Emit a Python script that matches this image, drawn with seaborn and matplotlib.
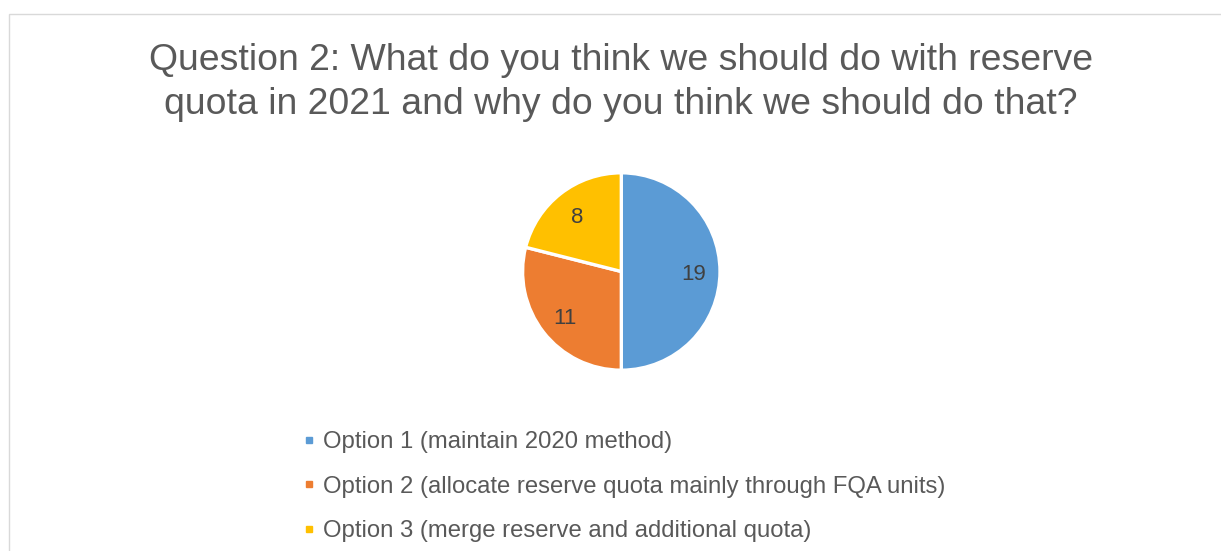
import matplotlib
matplotlib.use("Agg")
import matplotlib.pyplot as plt
from matplotlib.patches import Rectangle
from matplotlib.lines import Line2D
import seaborn as sns

# Survey responses for question 2
options = [
    "Option 1 (maintain 2020 method)",
    "Option 2 (allocate reserve quota mainly through FQA units)",
    "Option 3 (merge reserve and additional quota)",
]
responses = [19, 11, 8]
title_lines = [
    "Question 2: What do you think we should do with reserve",
    "quota in 2021 and why do you think we should do that?",
]

sns.set_theme(style="white")
plt.rcParams["font.family"] = ["Liberation Sans", "DejaVu Sans"]

W, H, DPI = 1221, 551, 100
fig = plt.figure(figsize=(W / DPI, H / DPI), dpi=DPI)
fig.patch.set_facecolor("white")

palette = sns.color_palette(["#5B9BD5", "#ED7D31", "#FFC000"])
text_gray = "#595959"

# chart-area outline
fig.patches.append(Rectangle((9 / W, -0.1), 1.2, (H - 13.5) / H + 0.1,
                             transform=fig.transFigure, fill=False,
                             edgecolor="#D9D9D9", linewidth=1.0, zorder=0))

# title, one line at a time
fig.text(621 / W, 1 - 69.5 / H, title_lines[0], ha="center", va="baseline",
         fontsize=26.9, color=text_gray)
fig.text(621 / W, 1 - 113.5 / H, title_lines[1], ha="center", va="baseline",
         fontsize=26.9, color=text_gray)

# pie
cx, cy, r = 621.3, 271.5, 98.7
ax = fig.add_axes([(cx - r) / W, (H - cy - r) / H, 2 * r / W, 2 * r / H])
total = sum(responses)
wedges, _, autotexts = ax.pie(
    responses, colors=palette, startangle=90, counterclock=False,
    autopct=lambda p: f"{round(p * total / 100)}", pctdistance=0.73,
    wedgeprops=dict(edgecolor="white", linewidth=2.4),
    textprops=dict(fontsize=16, color="#404040"),
)
for t in autotexts:
    t.set_va("center_baseline")
ax.set_xlim(-1, 1)
ax.set_ylim(-1, 1)
ax.set_aspect("equal")
ax.axis("off")

# legend
handles = [Line2D([], [], marker="s", linestyle="none", markersize=5,
                  markerfacecolor=c, markeredgecolor=c) for c in palette]
fig.legend(handles, options, loc="center left",
           bbox_to_anchor=(302.3 / W, (H - 486.5) / H),
           frameon=False, fontsize=17.2, labelcolor=text_gray,
           handlelength=0.6, handletextpad=0.25, borderpad=0,
           borderaxespad=0, labelspacing=0.94)

fig.savefig("out.png", dpi=DPI, facecolor="white")
